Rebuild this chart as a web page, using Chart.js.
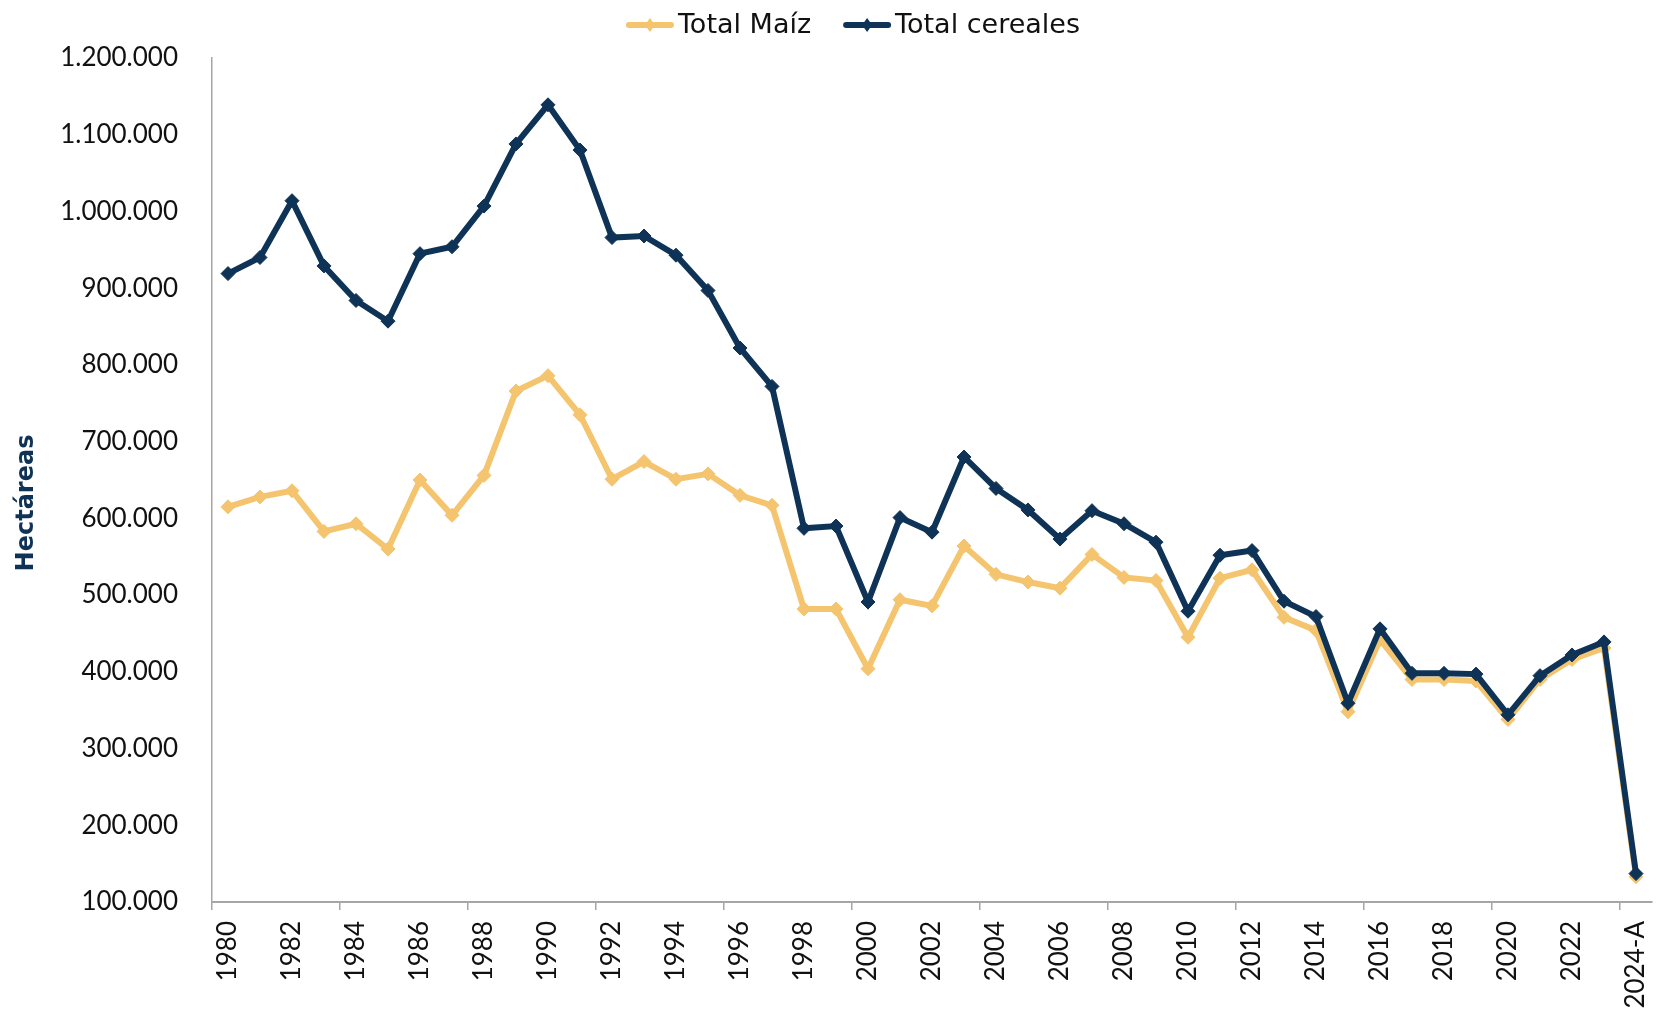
<!DOCTYPE html>
<html>
<head>
<meta charset="utf-8">
<script src="https://cdn.jsdelivr.net/npm/chart.js@4.4.1/dist/chart.umd.min.js"></script>
<style>
  html, body { margin: 0; padding: 0; background: #fff; }
  #box { width: 1660px; height: 1013px; }
</style>
</head>
<body>
<div id="box"><canvas id="chart" width="1660" height="1013"></canvas></div>
<script>
const years = [
  '1980', '1981', '1982', '1983', '1984', '1985', '1986', '1987', '1988', '1989',
  '1990', '1991', '1992', '1993', '1994', '1995', '1996', '1997', '1998', '1999',
  '2000', '2001', '2002', '2003', '2004', '2005', '2006', '2007', '2008', '2009',
  '2010', '2011', '2012', '2013', '2014', '2015', '2016', '2017', '2018', '2019',
  '2020', '2021', '2022', '2023', '2024-A'
];

const totalMaiz = [
  615000, 628000, 636000, 583000, 593000, 560000, 650000, 604000, 656000, 766000,
  786000, 735000, 651000, 674000, 651000, 658000, 630000, 617000, 482000, 482000,
  404000, 494000, 486000, 564000, 527000, 517000, 509000, 553000, 523000, 519000,
  445000, 522000, 533000, 471000, 454000, 348000, 442000, 390000, 390000, 388000,
  338000, 390000, 416000, 431000, 133000
];

const totalCereales = [
  919000, 940000, 1014000, 929000, 884000, 857000, 945000, 954000, 1007000, 1088000,
  1139000, 1080000, 966000, 968000, 943000, 897000, 822000, 772000, 587000, 590000,
  491000, 601000, 582000, 680000, 639000, 611000, 573000, 610000, 593000, 569000,
  479000, 552000, 558000, 492000, 472000, 359000, 456000, 398000, 398000, 397000,
  344000, 395000, 422000, 439000, 137000
];

const yTicks = [100000, 200000, 300000, 400000, 500000, 600000, 700000, 800000, 900000, 1000000, 1100000, 1200000];

const MAIZ = '#F4C46E';
const CEREAL = '#0F3357';
const AXIS = '#A6A6A6';

const fmt = (v) => String(v).replace(/\B(?=(\d{3})+(?!\d))/g, '.');

// legend: short line with a diamond in the middle, then the label
const lineLegend = {
  id: 'lineLegend',
  afterDraw(chart) {
    const ctx = chart.ctx;
    const items = chart.data.datasets.map(d => ({ label: d.label, color: d.borderColor }));
    ctx.save();
    ctx.font = '27px "DejaVu Sans"';
    ctx.textBaseline = 'middle';
    const lineW = 48, gap = 4, between = 32;
    const widths = items.map(it => lineW + gap + ctx.measureText(it.label).width);
    const total = widths.reduce((a, b) => a + b, 0) + between * (items.length - 1);
    let x = 853 - total / 2;
    const y = 25;
    items.forEach((it, i) => {
      ctx.strokeStyle = it.color;
      ctx.lineWidth = 6;
      ctx.lineCap = 'round';
      ctx.beginPath();
      ctx.moveTo(x + 3, y);
      ctx.lineTo(x + lineW - 3, y);
      ctx.stroke();
      ctx.fillStyle = it.color;
      ctx.beginPath();
      const cx = x + lineW / 2;
      ctx.moveTo(cx, y - 7);
      ctx.lineTo(cx + 5, y);
      ctx.lineTo(cx, y + 7);
      ctx.lineTo(cx - 5, y);
      ctx.closePath();
      ctx.fill();
      ctx.fillStyle = '#111';
      ctx.fillText(it.label, x + lineW + gap, y + 1);
      x += widths[i] + between;
    });
    ctx.restore();
  }
};

// vertical axis title
const yTitle = {
  id: 'yTitle',
  afterDraw(chart) {
    const ctx = chart.ctx;
    ctx.save();
    ctx.translate(27, 503);
    ctx.rotate(-Math.PI / 2);
    ctx.font = 'bold 24px "DejaVu Sans"';
    ctx.fillStyle = CEREAL;
    ctx.textAlign = 'center';
    ctx.textBaseline = 'middle';
    ctx.fillText('Hectáreas', 0, 0);
    ctx.restore();
  }
};

new Chart(document.getElementById('chart'), {
  type: 'line',
  data: {
    labels: years,
    datasets: [
      {
        label: 'Total Maíz',
        data: totalMaiz,
        borderColor: MAIZ,
        backgroundColor: MAIZ,
        borderWidth: 6,
        pointStyle: 'rectRot',
        pointRadius: 7,
        pointBorderWidth: 1,
        tension: 0,
        order: 1
      },
      {
        label: 'Total cereales',
        data: totalCereales,
        borderColor: CEREAL,
        backgroundColor: CEREAL,
        borderWidth: 6,
        pointStyle: 'rectRot',
        pointRadius: 7,
        pointBorderWidth: 1,
        tension: 0,
        order: 0
      }
    ]
  },
  options: {
    responsive: false,
    animation: false,
    devicePixelRatio: 1,
    layout: { padding: { top: 58, right: 1, bottom: 0, left: 0 } },
    plugins: {
      legend: { display: false },
      tooltip: { enabled: false }
    },
    scales: {
      x: {
        offset: true,
        grid: {
          offset: true,
          drawOnChartArea: false,
          tickLength: 8,
          lineWidth: 1.5,
          color: (c) => (c.index % 4 === 0 ? AXIS : 'rgba(0,0,0,0)')
        },
        border: { color: AXIS, width: 2 },
        ticks: {
          autoSkip: false,
          minRotation: 90,
          maxRotation: 90,
          padding: 11,
          color: '#111',
          font: { family: 'Lato', size: 26 },
          callback: (v, i) => (i % 2 === 0 ? years[i] : '')
        },
        afterFit: (s) => { s.height = 111; s.paddingLeft = 0; s.paddingRight = 0; }
      },
      y: {
        min: 100000,
        max: 1200000,
        afterBuildTicks: (s) => { s.ticks = yTicks.map(v => ({ value: v })); },
        grid: { display: false, drawTicks: false },
        border: { color: AXIS, width: 1.5 },
        ticks: {
          padding: 34,
          color: '#111',
          font: { family: 'Lato', size: 26 },
          callback: (v) => fmt(v)
        },
        afterFit: (s) => { s.width = 212; }
      }
    }
  },
  plugins: [lineLegend, yTitle]
});
</script>
</body>
</html>
